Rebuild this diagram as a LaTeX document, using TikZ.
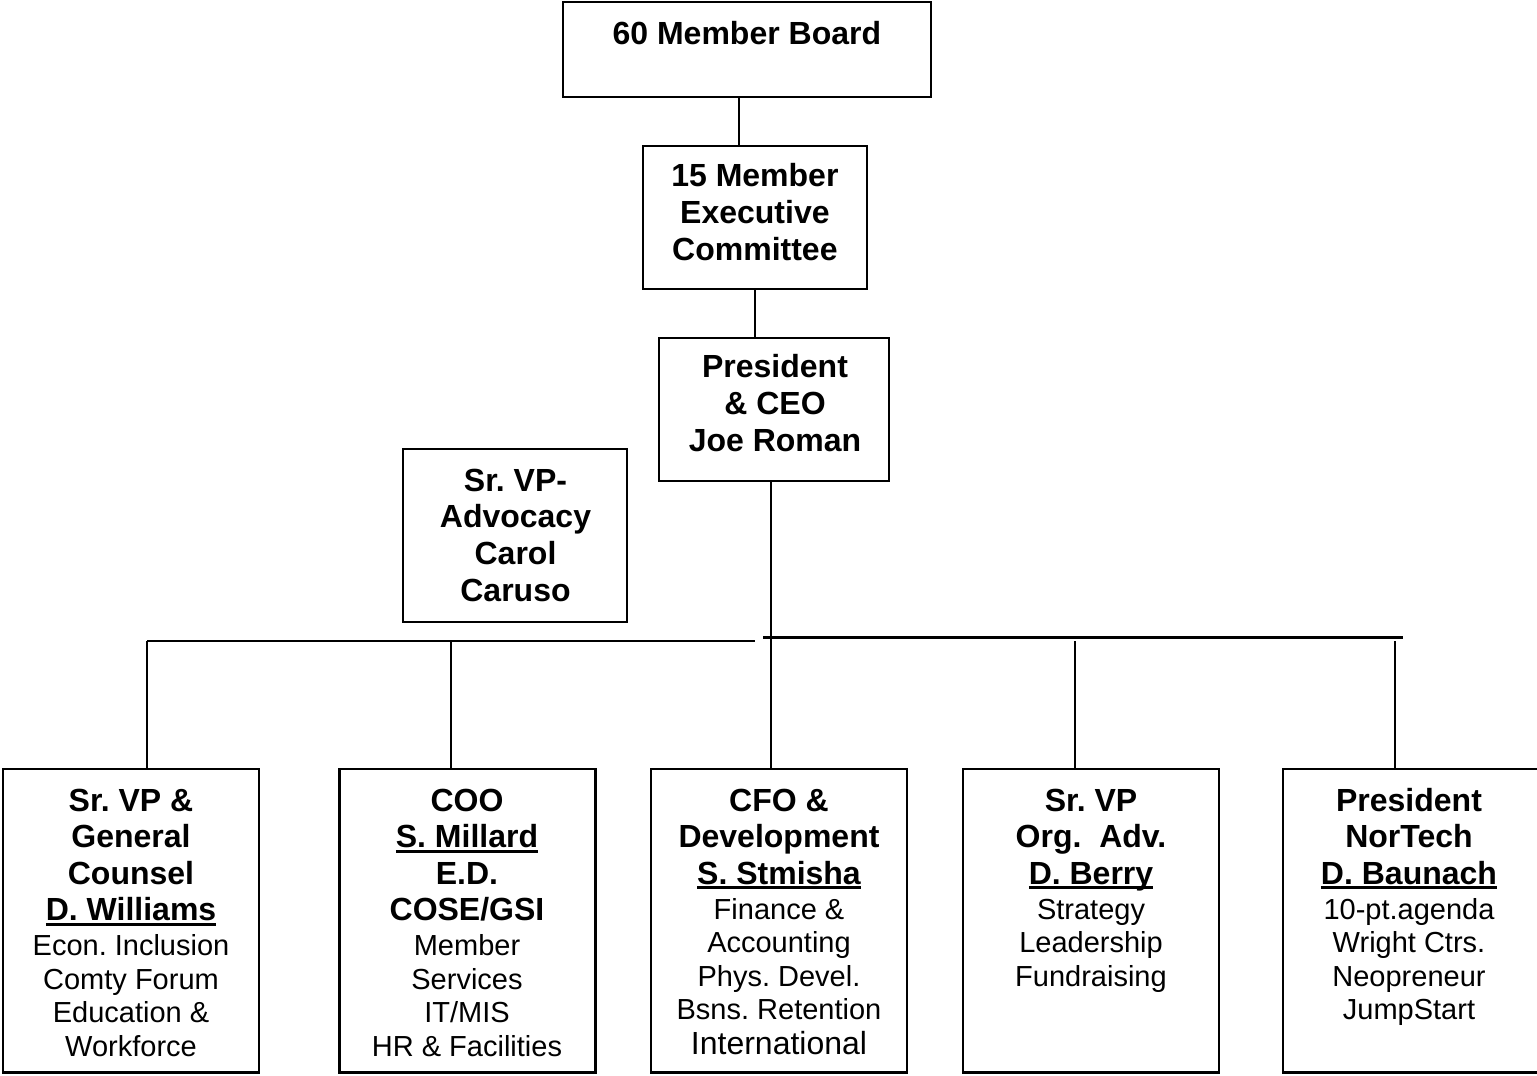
\documentclass[tikz,border=0pt]{standalone}
\usepackage{fontspec}
\setmainfont{Liberation Sans}
\frenchspacing
\newcommand\bft{\fontsize{32}{36}\selectfont\bfseries}
\newcommand\rgt{\fontsize{29}{33.5}\selectfont\mdseries}
\newcommand\rlg{\fontsize{32}{36}\selectfont\mdseries}
\newcommand\myul[1]{\setbox0\hbox{#1}\rlap{\rule[-5pt]{\wd0}{2.8pt}}\box0}
\newcommand\textstack[2][33.5pt]{\vtop{\baselineskip=#1\relax\lineskiplimit=-200pt\lineskip=0pt\halign{\hfil##\hfil\cr#2\crcr}}}
\newcommand\bsp{\noalign{\vskip3pt}}
\newcommand\tsp{\noalign{\vskip1.5pt}}
\tikzset{
  orgbox/.style={draw, line width=2.2pt, inner sep=0pt},
  conn/.style={line width=2.2pt},
  txt/.style={anchor=base, inner sep=0pt, align=center}
}
\begin{document}
\begin{tikzpicture}[x=1pt,y=-1pt]
\useasboundingbox (0,0) rectangle (1537,1076);
% boxes
\node[orgbox, minimum width=368.3pt, minimum height=95.6pt] (board) at (746.9,49.5) {};
\node[orgbox, minimum width=224.3pt, minimum height=143pt] (exec) at (754.9,217.5) {};
\node[orgbox, minimum width=230pt, minimum height=143pt] (pres) at (774,409.5) {};
\node[orgbox, minimum width=224pt, minimum height=172.4pt] (adv) at (514.7,535.5) {};
\node[orgbox, minimum width=256pt, minimum height=303.5pt] (b1) at (131,920.75) {};
\node[orgbox, minimum width=256pt, minimum height=303.5pt] (b2) at (467.5,920.75) {};
\node[orgbox, minimum width=256pt, minimum height=303.5pt] (b3) at (779,920.75) {};
\node[orgbox, minimum width=256pt, minimum height=303.5pt] (b4) at (1091,920.75) {};
\node[orgbox, minimum width=256pt, minimum height=303.5pt] (b5) at (1411,920.75) {};
% texts
\node[txt] (tboard) at (746.9,44.5) {\bft 60 Member Board};
\node[txt] (texec) at (754.9,186.5) {\textstack[37pt]{\bft 15 Member\cr\bft Executive\cr\bft Committee}};
\node[txt] (tpres) at (775,377.5) {\textstack[37pt]{\bft President\cr\bft \& CEO\cr\bft Joe Roman}};
\node[txt] (tadv) at (515.5,491) {\textstack[36.7pt]{\bft Sr. VP-\cr\bft Advocacy\cr\bft Carol\cr\bft Caruso}};
\node[txt] (tb1) at (131,811) {\textstack{\bft Sr. VP \&\cr\bsp\bft General\cr\bsp\bft Counsel\cr\bsp\bft\myul{D. Williams}\cr\tsp
  \rgt Econ. Inclusion\cr\rgt Comty Forum\cr\rgt Education \&\cr\rgt Workforce}};
\node[txt] (tb2) at (467,811) {\textstack{\bft COO\cr\bsp\bft\myul{S. Millard}\cr\bsp\bft E.D.\cr\bsp\bft COSE/GSI\cr\tsp
  \rgt Member\cr\rgt Services\cr\rgt IT/MIS\cr\rgt HR \& Facilities}};
\node[txt] (tb3) at (779,811) {\textstack{\bft CFO \&\cr\bsp\bft Development\cr\bsp\bft\myul{S. Stmisha}\cr\tsp
  \rgt Finance \&\cr\rgt Accounting\cr\rgt Phys. Devel.\cr\rgt Bsns. Retention\cr\tsp\rlg International}};
\node[txt] (tb4) at (1091,811) {\textstack{\bft Sr. VP\cr\bsp\bft Org.\ \ Adv.\cr\bsp\bft\myul{D. Berry}\cr\tsp
  \rgt Strategy\cr\rgt Leadership\cr\rgt Fundraising}};
\node[txt] (tb5) at (1409,811) {\textstack{\bft President\cr\bsp\bft NorTech\cr\bsp\bft\myul{D. Baunach}\cr\tsp
  \rgt 10-pt.agenda\cr\rgt Wright Ctrs.\cr\rgt Neopreneur\cr\rgt JumpStart}};
% connector coordinates
\coordinate (x1) at (739,0);
\coordinate (x3) at (771,0);
\coordinate (L0) at (147,641);
\coordinate (L1) at (755,641);
\coordinate (R0) at (763,637.5);
\coordinate (R1) at (1403,637.5);
\coordinate (v2) at (451,641);
\coordinate (v4) at (1075,641);
\coordinate (v5) at (1395,641);
% connectors
\draw[conn] (board.south -| x1) -- (exec.north -| x1);
\draw[conn] (exec.south) -- (exec.south |- pres.north);
\draw[conn] (pres.south -| x3) -- (b3.north -| x3);
\draw[conn] (L0) -- (L1);
\draw[conn] (R0) -- (R1);
\draw[conn] (L0) -- (L0 |- b1.north);
\draw[conn] (v2) -- (v2 |- b2.north);
\draw[conn] (v4) -- (v4 |- b4.north);
\draw[conn] (v5) -- (v5 |- b5.north);
\end{tikzpicture}
\end{document}
